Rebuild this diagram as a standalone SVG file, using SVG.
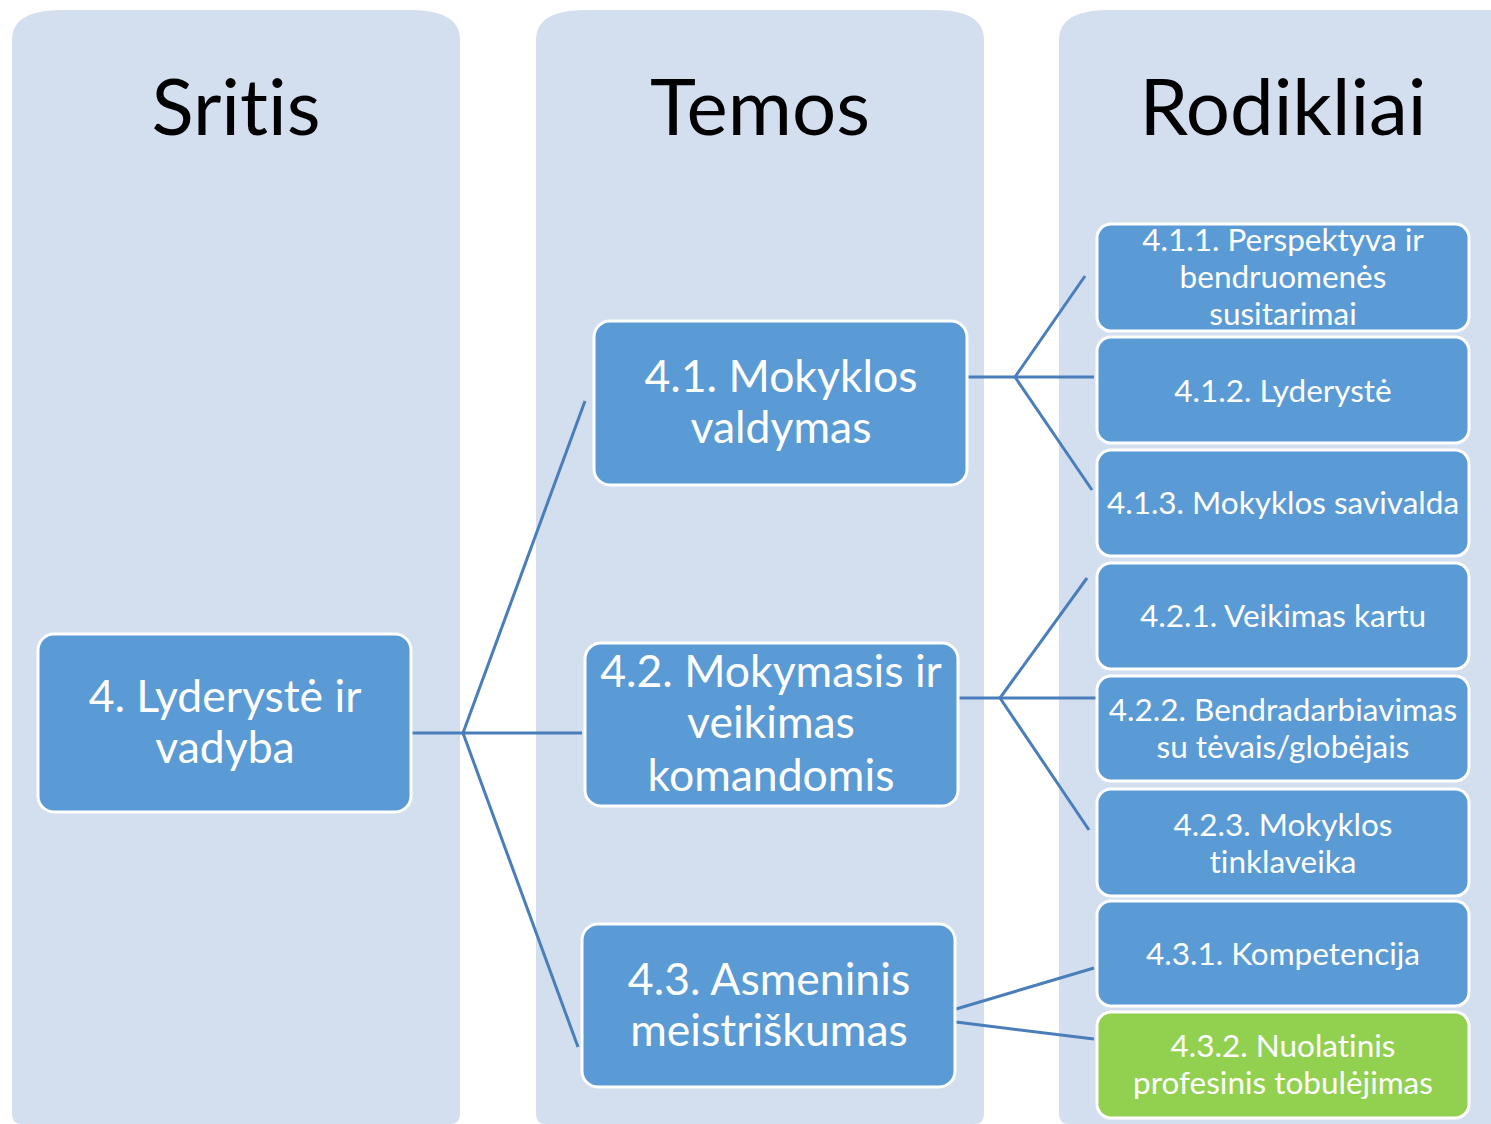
<svg xmlns="http://www.w3.org/2000/svg" width="1491" height="1124" viewBox="0 0 1491 1124">
<style>
text{font-variant-ligatures:none;font-feature-settings:"liga" 0}
.col{fill:#D3DEEF}
.hdr{font-family:Lato,"Liberation Sans",sans-serif;font-size:78px;fill:#000;text-anchor:middle}
.box{fill:#5B9BD5;stroke:#fff;stroke-width:3}
.green{fill:#92D050;stroke:#fff;stroke-width:3}
.big{font-family:Lato,"Liberation Sans",sans-serif;font-size:44.5px;fill:#fff;text-anchor:middle}
.sm{font-family:Lato,"Liberation Sans",sans-serif;font-size:31.5px;fill:#fff;text-anchor:middle}
.con{stroke:#4A7EBB;stroke-width:3;fill:none}
</style>
<rect width="1491" height="1124" fill="#fff"/>
<g id="columns">
<path class="col" d="M12,40 Q12,10 62,10 L410,10 Q460,10 460,40 L460,1114 Q460,1124 450,1124 L22,1124 Q12,1124 12,1114 Z"/>
<path class="col" d="M536,40 Q536,10 586,10 L934,10 Q984,10 984,40 L984,1114 Q984,1124 974,1124 L546,1124 Q536,1124 536,1114 Z"/>
<path class="col" d="M1059,40 Q1059,10 1109,10 L1491,10 L1491,1124 L1069,1124 Q1059,1124 1059,1114 Z"/>
<text class="hdr" x="236" y="135">Sritis</text>
<text class="hdr" x="760" y="135">Temos</text>
<text class="hdr" x="1283" y="135">Rodikliai</text>
</g>
<g id="connectors">
<path class="con" d="M405,733 H582"/>
<path class="con" d="M463,733 L585,401"/>
<path class="con" d="M463,733 L578,1047"/>
<path class="con" d="M967,377 H1094"/>
<path class="con" d="M1015,377 L1085,276"/>
<path class="con" d="M1015,377 L1092,490"/>
<path class="con" d="M958,698 H1096"/>
<path class="con" d="M1000,698 L1087,578"/>
<path class="con" d="M1000,698 L1089,830"/>
<path class="con" d="M956,1009 L1094,968"/>
<path class="con" d="M956,1022 L1094,1039"/>
</g>
<g id="n4">
<rect class="box" x="38" y="634" width="373" height="178" rx="16"/>
<text class="big"><tspan x="225" y="712">4. Lyderystė ir</tspan><tspan x="225" y="763">vadyba</tspan></text>
</g>
<g id="n41">
<rect class="box" x="594" y="321" width="373" height="164" rx="16"/>
<text class="big"><tspan x="781" y="392">4.1. Mokyklos</tspan><tspan x="781" y="443">valdymas</tspan></text>
</g>
<g id="n42">
<rect class="box" x="585" y="643" width="373" height="163" rx="16"/>
<text class="big"><tspan x="771" y="687">4.2. Mokymasis ir</tspan><tspan x="771" y="738">veikimas</tspan><tspan x="771" y="791">komandomis</tspan></text>
</g>
<g id="n43">
<rect class="box" x="582" y="924" width="373" height="163" rx="16"/>
<text class="big"><tspan x="769" y="995">4.3. Asmeninis</tspan><tspan x="769" y="1046">meistriškumas</tspan></text>
</g>
<g id="n411">
<rect class="box" x="1097" y="224" width="372" height="107" rx="14"/>
<text class="sm"><tspan x="1283" y="251">4.1.1. Perspektyva ir</tspan><tspan x="1283" y="288">bendruomenės</tspan><tspan x="1283" y="325">susitarimai</tspan></text>
</g>
<g id="n412">
<rect class="box" x="1097" y="337" width="372" height="106" rx="14"/>
<text class="sm" x="1283" y="402">4.1.2. Lyderystė</text>
</g>
<g id="n413">
<rect class="box" x="1097" y="450" width="372" height="106" rx="14"/>
<text class="sm" x="1283" y="514">4.1.3. Mokyklos savivalda</text>
</g>
<g id="n421">
<rect class="box" x="1097" y="563" width="372" height="106" rx="14"/>
<text class="sm" x="1283" y="627">4.2.1. Veikimas kartu</text>
</g>
<g id="n422">
<rect class="box" x="1097" y="676" width="372" height="105" rx="14"/>
<text class="sm"><tspan x="1283" y="721">4.2.2. Bendradarbiavimas</tspan><tspan x="1283" y="758">su tėvais/globėjais</tspan></text>
</g>
<g id="n423">
<rect class="box" x="1097" y="789" width="372" height="107" rx="14"/>
<text class="sm"><tspan x="1283" y="836">4.2.3. Mokyklos</tspan><tspan x="1283" y="873">tinklaveika</tspan></text>
</g>
<g id="n431">
<rect class="box" x="1097" y="901" width="372" height="105" rx="14"/>
<text class="sm" x="1283" y="965">4.3.1. Kompetencija</text>
</g>
<g id="n432">
<rect class="green" x="1097" y="1012" width="372" height="106" rx="14"/>
<text class="sm"><tspan x="1283" y="1057">4.3.2. Nuolatinis</tspan><tspan x="1283" y="1094">profesinis tobulėjimas</tspan></text>
</g>
</svg>
